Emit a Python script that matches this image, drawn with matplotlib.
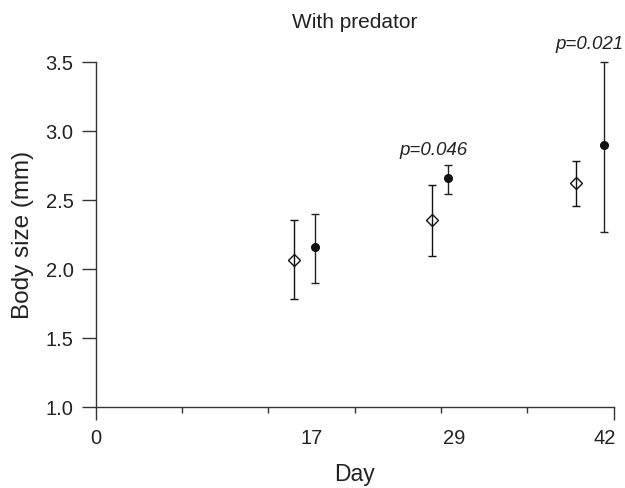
import matplotlib

matplotlib.use("Agg")
import matplotlib.pyplot as plt

plt.rcParams["font.family"] = ["Liberation Sans", "DejaVu Sans"]

# open diamonds (one group) and filled circles (other group), per sampling day
open_day = [16.1, 27.3, 38.9]
open_mean = [2.065, 2.351, 2.621]
open_lo = [1.780, 2.092, 2.457]
open_hi = [2.353, 2.609, 2.780]

fill_day = [17.8, 28.6, 41.2]
fill_mean = [2.155, 2.655, 2.899]
fill_lo = [1.899, 2.541, 2.264]
fill_hi = [2.399, 2.754, 3.496]

day_labels = ["0", "17", "29", "42"]
day_label_pos = [0, 17.5, 29.1, 41.3]

p_text = ["p=0.046", "p=0.021"]
p_day = [27.4, 40.0]
p_y = [2.86, 3.63]

y_ticks = [1.0, 1.5, 2.0, 2.5, 3.0, 3.5]

axis_color = "#333333"
text_color = "#222222"

fig = plt.figure(figsize=(6.25, 4.89), dpi=100)
ax = fig.add_axes([0.153, 0.166, 0.829, 0.706])

ax.errorbar(
    open_day, open_mean,
    yerr=[[m - lo for m, lo in zip(open_mean, open_lo)], [hi - m for m, hi in zip(open_mean, open_hi)]],
    fmt="D", markersize=6, markerfacecolor="none", markeredgecolor="#111111", markeredgewidth=1.0,
    ecolor="#111111", elinewidth=1.0, capsize=3, capthick=1.0, clip_on=False,
)
ax.errorbar(
    fill_day, fill_mean,
    yerr=[[m - lo for m, lo in zip(fill_mean, fill_lo)], [hi - m for m, hi in zip(fill_mean, fill_hi)]],
    fmt="o", markersize=5.5, markerfacecolor="#111111", markeredgecolor="#111111",
    ecolor="#222222", elinewidth=1.0, capsize=3, capthick=1.0, clip_on=False,
)

for txt, xd, yv in zip(p_text, p_day, p_y):
    ax.text(xd, yv, txt, ha="center", va="center", fontsize=13.5, style="italic", color=text_color)

ax.set_xlim(0, 42)
ax.set_ylim(1.0, 3.5)

ax.spines["top"].set_visible(False)
ax.spines["right"].set_visible(False)
for side in ("left", "bottom"):
    ax.spines[side].set_color(axis_color)
    ax.spines[side].set_linewidth(1.0)

ax.set_yticks(y_ticks)
ax.set_yticklabels([f"{v:.1f}" for v in y_ticks])
ax.tick_params(axis="y", length=10, width=1.0, color=axis_color, pad=6, labelsize=14.5, labelcolor=text_color)

ax.set_xticks([0, 42])
ax.set_xticklabels([])
ax.set_xticks([7, 14, 21, 28, 35], minor=True)
ax.tick_params(axis="x", which="major", length=9.5, width=1.0, color=axis_color)
ax.tick_params(axis="x", which="minor", length=4.5, width=1.0, color=axis_color)

for lab, pos in zip(day_labels, day_label_pos):
    ax.annotate(lab, xy=(pos, 0), xycoords=("data", "axes fraction"), xytext=(0, -15),
                textcoords="offset points", ha="center", va="top", fontsize=14.5, color=text_color,
                annotation_clip=False)

ax.set_xlabel("Day", fontsize=16.5, labelpad=27, color=text_color)
ax.set_ylabel("Body size (mm)", fontsize=17.5, labelpad=8, color=text_color)
ax.set_title("With predator", fontsize=15, pad=25, color=text_color)

fig.savefig("out.png", dpi=100)
